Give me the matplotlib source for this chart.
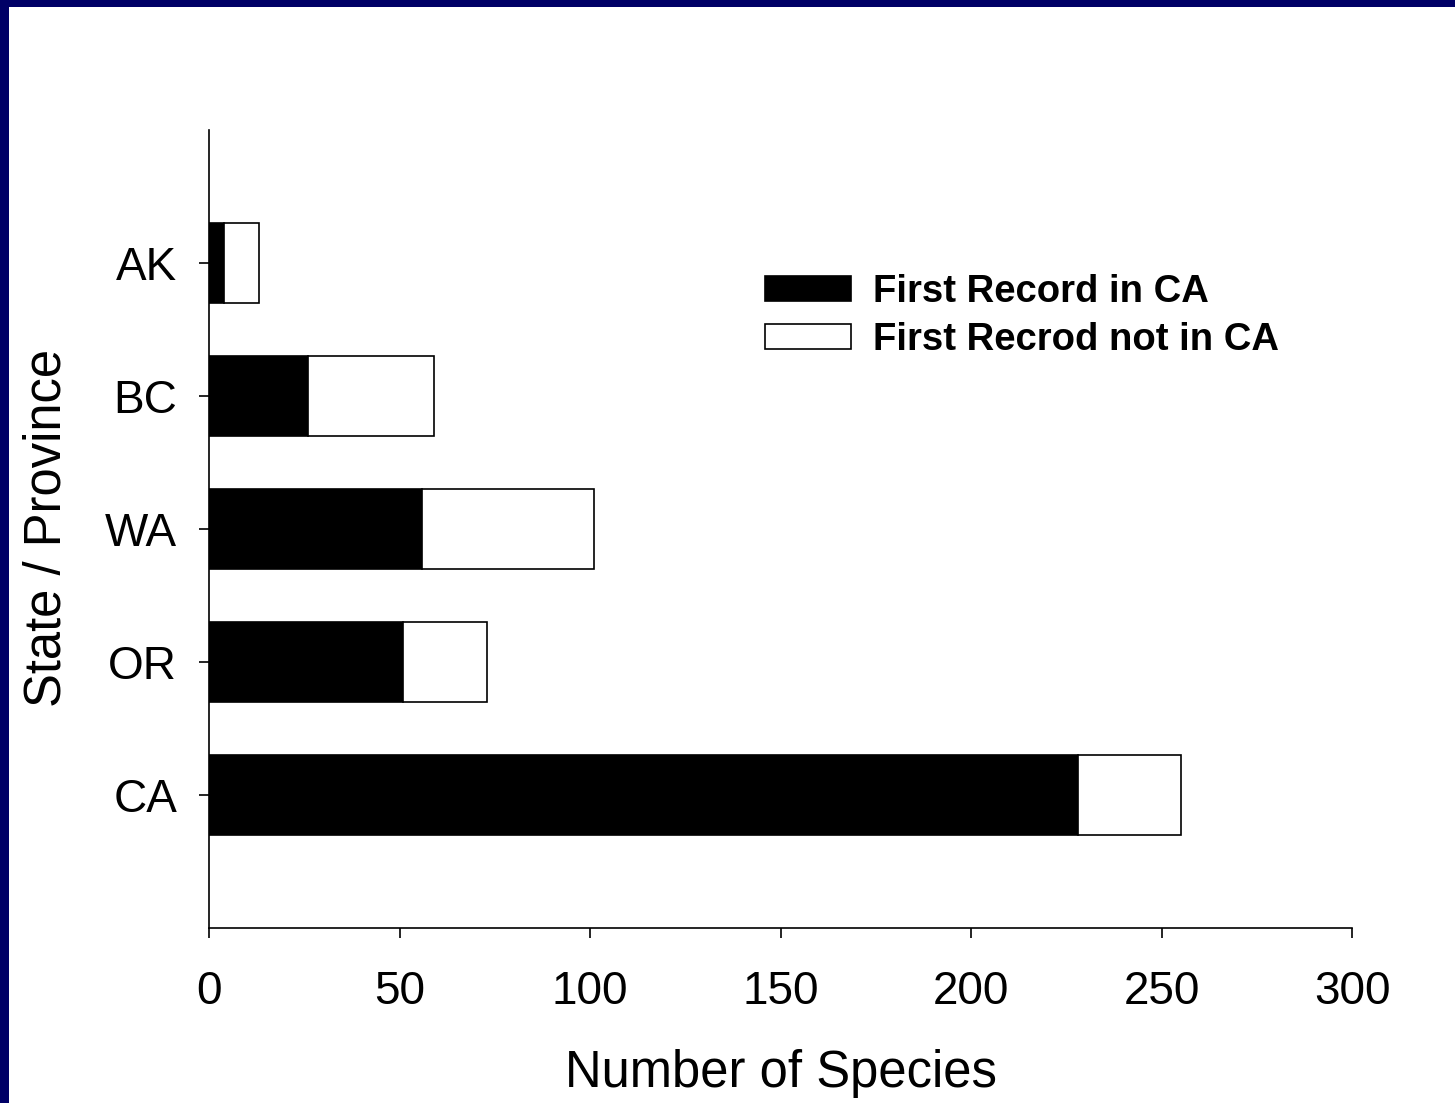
import numpy as np
import matplotlib
matplotlib.use("Agg")
import matplotlib.pyplot as plt
from matplotlib.patches import Rectangle

plt.rcParams['font.family'] = ['Liberation Sans', 'DejaVu Sans']

# data
states = ["CA", "OR", "WA", "BC", "AK"]
first_in_ca = [228, 51, 56, 26, 4]
first_not_in_ca = [27, 22, 45, 33, 9]
x_ticks = [0, 50, 100, 150, 200, 250, 300]

W, H = 1455, 1103
fig = plt.figure(figsize=(W / 100, H / 100), dpi=100)
fig.patch.set_facecolor("#000066")
# white panel, navy strip only on the top and left edge
fig.patches.append(Rectangle((9 / W, 0), 1, 1 - 7 / H, transform=fig.transFigure,
                             facecolor="white", edgecolor="none", zorder=-1))

ax = fig.add_axes([209 / W, 1 - 928 / H, (1352 - 209) / W, (928 - 130) / H])
ax.set_facecolor("white")

y = np.arange(len(states))
ax.barh(y, first_in_ca, height=0.6, color="black", edgecolor="black", linewidth=1.2,
        label="First Record in CA")
ax.barh(y, first_not_in_ca, left=first_in_ca, height=0.6, color="white",
        edgecolor="black", linewidth=1.2, label="First Recrod not in CA")

ax.set_xlim(0, 300)
ax.set_ylim(-1, 5)
ax.set_xticks(x_ticks)
ax.set_yticks(y)
ax.set_yticklabels(states)

for s in ["top", "right"]:
    ax.spines[s].set_visible(False)
for s in ["left", "bottom"]:
    ax.spines[s].set_linewidth(1.2)
ax.tick_params(axis="x", length=7, width=1.2, labelsize=33, pad=23)
ax.tick_params(axis="y", length=7, width=1.2, labelsize=33, pad=16)

fig.text(781 / W, 1 - 1073 / H, "Number of Species", fontsize=36.5, ha="center", va="center")
fig.text(47 / W, 1 - 528 / H, "State / Province", fontsize=36.5, rotation=90,
         ha="center", va="center")

leg = ax.legend(loc="center left", bbox_to_anchor=(765 / W, 1 - 316 / H),
                bbox_transform=fig.transFigure, frameon=False, borderpad=0,
                borderaxespad=0, handlelength=2.25, handleheight=0.63,
                handletextpad=0.58, labelspacing=0.3,
                prop={"size": 27.5, "weight": "bold"})

fig.savefig("out.png", dpi=100, facecolor=fig.get_facecolor())
